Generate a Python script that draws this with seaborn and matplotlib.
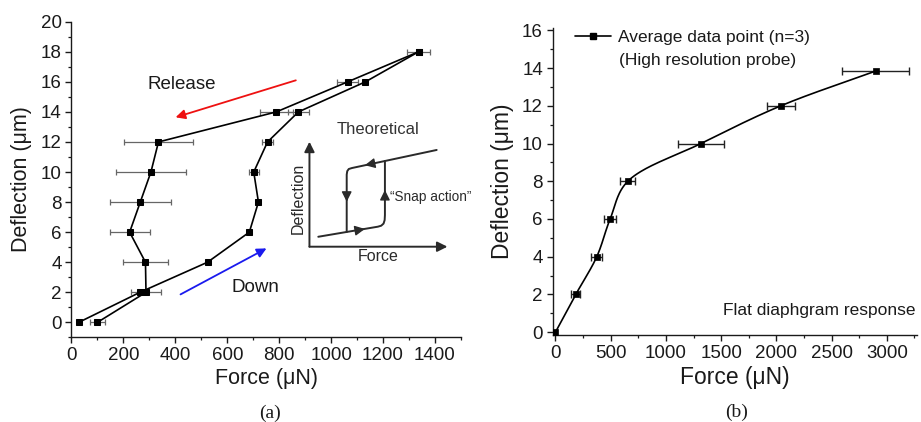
import numpy as np
import pandas as pd
import matplotlib
matplotlib.use("Agg")
import matplotlib.pyplot as plt
from matplotlib.lines import Line2D
from matplotlib.ticker import MultipleLocator
import seaborn as sns

# ---- panel (a): hysteresis measurement ----
down_force = [28, 264, 524, 685, 720, 702, 755, 874, 1132, 1337]
down_defl = [0, 2, 4, 6, 8, 10, 12, 14, 16, 18]
down_err = [0, 0, 0, 0, 0, 20, 20, 42, 0, 0]

release_force = [1337, 1064, 789, 335, 306, 265, 224, 285, 287, 100]
release_defl = [18, 16, 14, 12, 10, 8, 6, 4, 2, 0]
release_err = [45, 40, 63, 133, 136, 117, 77, 88, 56, 30]

# ---- panel (b): flat diaphragm response ----
flat_force = [0, 184, 374, 495, 655, 1317, 2040, 2901]
flat_defl = [0, 2, 4, 6, 8, 10, 12, 13.85]
flat_err = [0, 42, 48, 52, 68, 212, 128, 304]

# ---- schematic of the theoretical snap-action loop (arbitrary units) ----
loop_up_x = [0.64, 4.96, 5.2, 5.37, 5.45, 5.47, 5.47]
loop_up_y = [0.71, 1.43, 1.5, 1.65, 1.9, 2.26, 6.12]
loop_back_x = [9.22, 3.08, 2.85, 2.74, 2.70, 2.70]
loop_back_y = [6.91, 5.62, 5.55, 5.4, 5.15, 1.05]

sns.set_theme(style="ticks")
plt.rcParams["font.family"] = ["Liberation Sans", "DejaVu Sans"]
plt.rcParams["axes.linewidth"] = 1.0
plt.rcParams["xtick.major.width"] = 1.0
plt.rcParams["ytick.major.width"] = 1.0
plt.rcParams["xtick.minor.width"] = 0.9
plt.rcParams["ytick.minor.width"] = 0.9

TXT = "#1a1a1a"
ERR = "#666666"

fig = plt.figure(figsize=(9.21, 4.22), dpi=100)
ax1 = fig.add_axes([0.0776, 0.2005, 0.4229, 0.7481])
ax2 = fig.add_axes([0.6001, 0.2062, 0.3952, 0.7263])


def style_axes(ax):
    sns.despine(ax=ax)
    ax.tick_params(which="major", direction="out", length=4.5, labelsize=13.5,
                   colors=TXT, pad=2.5)
    ax.tick_params(which="minor", direction="out", length=2.5, colors=TXT)
    for s in ("left", "bottom"):
        ax.spines[s].set_color(TXT)


def catmull_rom(xs, ys, n=40):
    """Centripetal Catmull-Rom curve through the points."""
    p = np.column_stack([xs, ys]).astype(float)
    p = np.vstack([2 * p[0] - p[1], p, 2 * p[-1] - p[-2]])
    out = []
    for i in range(1, len(p) - 2):
        p0, p1, p2, p3 = p[i - 1], p[i], p[i + 1], p[i + 2]

        def tj(ti, a, b):
            return ti + np.linalg.norm(b - a) ** 0.5
        t0 = 0.0
        t1 = tj(t0, p0, p1)
        t2 = tj(t1, p1, p2)
        t3 = tj(t2, p2, p3)
        t = np.linspace(t1, t2, n)[:, None]
        a1 = (t1 - t) / (t1 - t0) * p0 + (t - t0) / (t1 - t0) * p1
        a2 = (t2 - t) / (t2 - t1) * p1 + (t - t1) / (t2 - t1) * p2
        a3 = (t3 - t) / (t3 - t2) * p2 + (t - t2) / (t3 - t2) * p3
        b1 = (t2 - t) / (t2 - t0) * a1 + (t - t0) / (t2 - t0) * a2
        b2 = (t3 - t) / (t3 - t1) * a2 + (t - t1) / (t3 - t1) * a3
        c = (t2 - t) / (t2 - t1) * b1 + (t - t1) / (t2 - t1) * b2
        out.append(c if i == len(p) - 3 else c[:-1])
    return np.vstack(out)


# ---------------- panel (a) ----------------
df_down = pd.DataFrame({"force": down_force, "defl": down_defl, "err": down_err})
df_rel = pd.DataFrame({"force": release_force, "defl": release_defl, "err": release_err})

for df in (df_rel, df_down):
    m = df["err"] > 0
    ax1.errorbar(df.loc[m, "force"], df.loc[m, "defl"], xerr=df.loc[m, "err"],
                 fmt="none", ecolor=ERR, elinewidth=0.9, capsize=2.5, capthick=0.9,
                 zorder=2)
    sns.lineplot(data=df, x="force", y="defl", sort=False, estimator=None,
                 color="black", lw=1.2, marker="s", markersize=5,
                 markeredgecolor="black", ax=ax1, zorder=3)

ax1.set_xlim(0, 1500)
ax1.set_ylim(-1, 20)
ax1.xaxis.set_minor_locator(MultipleLocator(100))
ax1.yaxis.set_major_locator(MultipleLocator(2))
ax1.yaxis.set_minor_locator(MultipleLocator(1))
ax1.set_xticks([0, 200, 400, 600, 800, 1000, 1200, 1400])
style_axes(ax1)
ax1.set_xlabel("Force (μN)", fontsize=15.5, color=TXT, labelpad=3)
ax1.set_ylabel("Deflection (μm)", fontsize=15.5, color=TXT, labelpad=6)

ax1.annotate("", xy=(401, 13.64), xytext=(864, 16.1),
             arrowprops=dict(arrowstyle="-|>", color="#ee1111", lw=1.3,
                             mutation_scale=14, shrinkA=0, shrinkB=0))
ax1.annotate("", xy=(751, 4.92), xytext=(420, 1.86),
             arrowprops=dict(arrowstyle="-|>", color="#1a1aee", lw=1.3,
                             mutation_scale=14, shrinkA=0, shrinkB=0))
ax1.text(425, 15.85, "Release", fontsize=13.5, color=TXT, ha="center", va="center")
ax1.text(707, 2.32, "Down", fontsize=13.5, color=TXT, ha="center", va="center")
ax1.text(1182, 12.8, "Theoretical", fontsize=12, color="#333333",
         ha="center", va="center")

# inset schematic
axi = fig.add_axes([0.3360, 0.4154, 0.1498, 0.2488])
axi.set_xlim(0, 10)
axi.set_ylim(0, 7.5)
axi.axis("off")
ink = "#2a2a2a"
arrow_kw = dict(arrowstyle="-|>", color=ink, lw=1.4, mutation_scale=15,
                shrinkA=0, shrinkB=0)
axi.annotate("", xy=(10, 0), xytext=(0, 0), arrowprops=arrow_kw,
             annotation_clip=False)
axi.annotate("", xy=(0, 7.5), xytext=(0, 0), arrowprops=arrow_kw,
             annotation_clip=False)
axi.plot(loop_up_x, loop_up_y, color=ink, lw=1.4, clip_on=False,
         solid_joinstyle="round")
axi.plot(loop_back_x, loop_back_y, color=ink, lw=1.4, clip_on=False,
         solid_joinstyle="round")
head_kw = dict(arrowstyle="-|>", color=ink, lw=1, mutation_scale=15,
               shrinkA=0, shrinkB=0)
for tip, tail in [((2.70, 3.21), (2.70, 3.8)),
                  ((5.47, 4.05), (5.47, 3.5)),
                  ((4.02, 1.27), (3.5, 1.18)),
                  ((4.02, 5.82), (4.5, 5.92))]:
    axi.annotate("", xy=tip, xytext=tail, arrowprops=head_kw,
                 annotation_clip=False)
axi.text(-0.81, 3.48, "Deflection", rotation=90, fontsize=11.5, color=ink,
         ha="center", va="center")
axi.text(4.99, -0.71, "Force", fontsize=11.5, color=ink, ha="center", va="center")
axi.text(5.83, 3.57, "“Snap action”", fontsize=9.8, color=ink, ha="left",
         va="center", clip_on=False)

# ---------------- panel (b) ----------------
df_flat = pd.DataFrame({"force": flat_force, "defl": flat_defl, "err": flat_err})
sx, sy = 1.0 / 3270.0, 1.0 / 16.2
curve = catmull_rom(np.array(flat_force) * sx, np.array(flat_defl) * sy)
df_curve = pd.DataFrame({"force": curve[:, 0] / sx, "defl": curve[:, 1] / sy})

m = df_flat["err"] > 0
ax2.errorbar(df_flat.loc[m, "force"], df_flat.loc[m, "defl"],
             xerr=df_flat.loc[m, "err"], fmt="none", ecolor="#222222",
             elinewidth=1.0, capsize=3, capthick=1.0, zorder=2)
sns.lineplot(data=df_curve, x="force", y="defl", sort=False, estimator=None,
             color="black", lw=1.2, ax=ax2, zorder=3)
sns.scatterplot(data=df_flat, x="force", y="defl", marker="s", s=24,
                color="black", edgecolor="black", linewidth=0.5, ax=ax2, zorder=4)

ax2.set_xlim(-25, 3270)
ax2.set_ylim(-0.15, 16.1)
ax2.xaxis.set_minor_locator(MultipleLocator(250))
ax2.yaxis.set_minor_locator(MultipleLocator(1))
ax2.set_xticks([0, 500, 1000, 1500, 2000, 2500, 3000])
ax2.set_yticks([0, 2, 4, 6, 8, 10, 12, 14, 16])
style_axes(ax2)
ax2.set_xlabel("Force (μN)", fontsize=16.5, color=TXT, labelpad=3)
ax2.set_ylabel("Deflection (μm)", fontsize=16.5, color=TXT, labelpad=6)

handle = Line2D([], [], color="black", lw=1.2, marker="s", markersize=5)
ax2.legend([handle], ["Average data point (n=3)"], loc="upper left",
           bbox_to_anchor=(0.061, 0.995), frameon=False, fontsize=12.5,
           handlelength=2.1, handletextpad=0.4, borderpad=0, borderaxespad=0,
           labelcolor=TXT)
ax2.text(0.182, 0.897, "(High resolution probe)", transform=ax2.transAxes,
         fontsize=12.5, color=TXT, ha="left", va="center")
ax2.text(0.998, 0.079, "Flat diaphgram response", transform=ax2.transAxes,
         fontsize=12.5, color=TXT, ha="right", va="center")

# panel captions
fig.text(270 / 921, 1 - 413 / 422, "(a)", fontsize=14, color=TXT,
         family="Liberation Serif", ha="center", va="center")
fig.text(737 / 921, 1 - 412 / 422, "(b)", fontsize=14, color=TXT,
         family="Liberation Serif", ha="center", va="center")

fig.savefig("out.png", dpi=100)
